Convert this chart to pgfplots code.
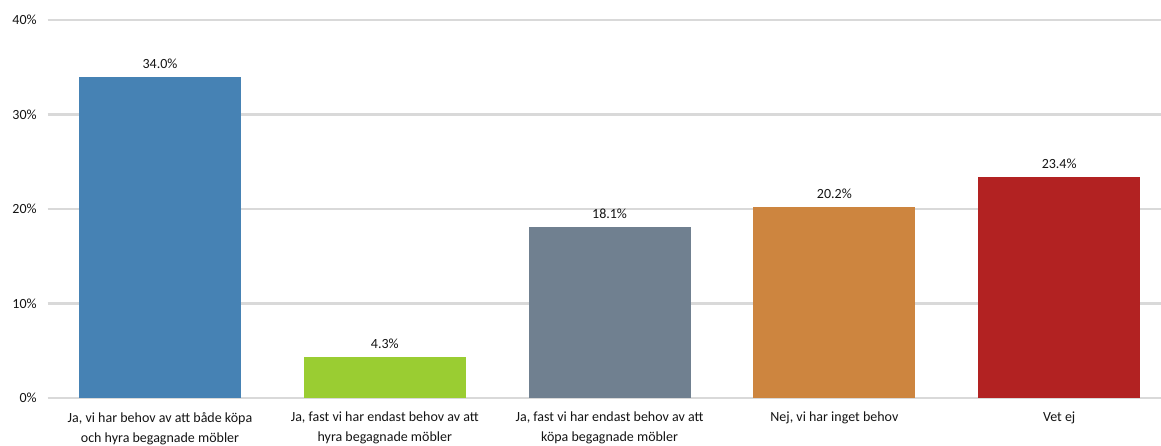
\documentclass[border=0pt]{standalone}
\usepackage{pgfplots}
\pgfplotsset{compat=1.18}
\usepackage{fontspec}
\setmainfont{Carlito}

\definecolor{bA}{RGB}{70,130,180}
\definecolor{bB}{RGB}{154,205,50}
\definecolor{bC}{RGB}{112,128,144}
\definecolor{bD}{RGB}{205,133,63}
\definecolor{bE}{RGB}{178,34,34}
\definecolor{gridc}{RGB}{217,217,217}
\definecolor{txt}{RGB}{20,20,20}

\begin{document}
\begin{tikzpicture}
\useasboundingbox (-35.7pt,-36pt) rectangle (835.05pt,298.5pt);
\begin{axis}[
    scale only axis,
    width=835.05pt, height=283.5pt,
    at={(0,0)}, anchor=south west,
    ybar, bar shift=0pt, bar width=0.72,
    xmin=-0.5, xmax=4.453,
    ymin=0, ymax=40,
    axis line style={draw=none},
    major tick length=0pt,
    ymajorgrids,
    grid style={gridc, line width=1.9pt},
    ytick={0,10,20,30,40},
    yticklabels={0\%,10\%,20\%,30\%,40\%},
    xtick={0,1,2,3,4},
    xticklabels={
        {Ja, vi har behov av att både köpa\\och hyra begagnade möbler},
        {Ja, fast vi har endast behov av att\\hyra begagnade möbler},
        {Ja, fast vi har endast behov av att\\köpa begagnade möbler},
        {Nej, vi har inget behov},
        {Vet ej}},
    xticklabel style={align=center, anchor=north, inner sep=0pt, yshift=-10.5pt,
        font=\fontsize{10.5}{15}\selectfont, text=txt},
    yticklabel style={anchor=east, inner sep=0pt, xshift=-8pt,
        font=\fontsize{10.5}{12}\selectfont, text=txt},
    /pgf/number format/assume math mode=true,
    nodes near coords={\pgfmathprintnumber[fixed, fixed zerofill, precision=1]{\pgfplotspointmeta}\%},
    nodes near coords style={font=\fontsize{10.5}{12}\selectfont, text=txt, inner sep=0pt, yshift=6pt},
    clip=false,
]
\addplot[fill=bA, draw=none] coordinates {(0,34.0)};
\addplot[fill=bB, draw=none] coordinates {(1,4.3)};
\addplot[fill=bC, draw=none] coordinates {(2,18.1)};
\addplot[fill=bD, draw=none] coordinates {(3,20.2)};
\addplot[fill=bE, draw=none] coordinates {(4,23.4)};
\end{axis}
\end{tikzpicture}
\end{document}
